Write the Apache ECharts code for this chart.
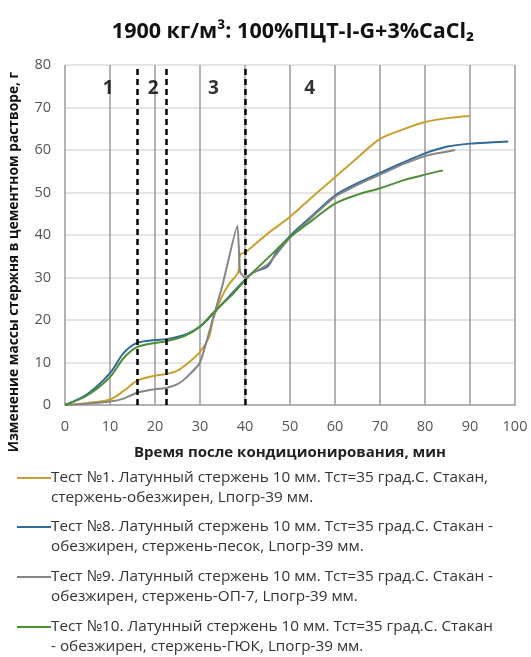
<!DOCTYPE html>
<html>
<head>
<meta charset="utf-8">
<script src="https://cdn.jsdelivr.net/npm/echarts@6/dist/echarts.min.js"></script>
<style>html,body{margin:0;padding:0;background:#fff}#c{width:531px;height:657px}</style>
</head>
<body>
<div id="c"></div>
<script>
// ---- data ----
var titleText = '1900 кг/м³: 100%ПЦТ-I-G+3%CaCl₂';
var xAxisName = 'Время после кондиционирования, мин';
var yAxisName = 'Изменение массы стержня в цементном растворе, г';
var xTicks = [0, 10, 20, 30, 40, 50, 60, 70, 80, 90, 100];
var yTicks = [0, 10, 20, 30, 40, 50, 60, 70, 80];

var names = [
  'Тест №1. Латунный стержень 10 мм. Тст=35 град.С. Стакан,\nстержень-обезжирен, Lпогр-39 мм.',
  'Тест №8. Латунный стержень 10 мм. Тст=35 град.С. Стакан -\nобезжирен, стержень-песок, Lпогр-39 мм.',
  'Тест №9. Латунный стержень 10 мм. Тст=35 град.С. Стакан -\nобезжирен, стержень-ОП-7, Lпогр-39 мм.',
  'Тест №10. Латунный стержень 10 мм. Тст=35 град.С. Стакан\n- обезжирен, стержень-ГЮК, Lпогр-39 мм.'
];

var test1 = [[0,0],[5,0.5],[10,1.3],[13,3.3],[16,5.7],[20,6.9],[22.5,7.3],[25,8.1],[27.5,10],[30,12.5],[32,16],[33,20.5],[35,25.8],[36.5,28.5],[38.5,31.3],[38.9,35.4],[40.2,36],[45,40.3],[50,44.3],[55,49],[60,53.6],[65,58.2],[70,62.6],[75,64.8],[80,66.6],[85,67.5],[90,68]];
var test8 = [[0,0],[5,2.6],[10,7.5],[13,12.2],[16,14.6],[20,15.3],[22.5,15.5],[26.5,16.5],[30,18.4],[33,21.6],[36.7,25.8],[40,29.5],[42,31.3],[45,32.6],[47,36],[50,39.8],[55,44.6],[60,49.3],[65,52.2],[70,54.6],[75,57],[80,59.2],[85,60.8],[90,61.5],[95,61.8],[98.5,62]];
var test9 = [[0,0],[5,0.3],[10,0.8],[13,1.5],[16,2.9],[20,3.7],[22.5,4],[25,4.9],[27,6.5],[30,10],[33,20.8],[35,28.2],[38.3,42.2],[38.9,31.3],[40,30],[42,31.2],[45,33],[50,39.4],[55,44.3],[60,49],[65,51.8],[70,54.2],[75,56.6],[80,58.6],[86.7,60]];
var test10 = [[0,0],[5,2.3],[10,6.6],[13,11],[16,13.6],[20,14.6],[22.5,15],[26.5,16.2],[30,18.5],[33,21.8],[36.7,25.5],[40,29.3],[42,31.5],[45,34.5],[50,39.5],[55,43.5],[60,47.4],[65,49.5],[70,51],[75,52.8],[80,54.2],[84,55.2]];

var stageBounds = [16, 22.5, 40];
var stageLabels = [['1', 9.6, 74.5], ['2', 19.6, 74.5], ['3', 33, 74.5], ['4', 54.4, 74.5]];

var colors = ['#C9A030', '#2F6A99', '#858585', '#4E8E35'];
var smoothness = [0.3, 0.3, 0.15, 0.3];
var seriesData = [test1, test8, test9, test10];

var FONT = 'Open Sans';

var chart = echarts.init(document.getElementById('c'), null, {renderer: 'canvas'});

var series = seriesData.map(function (d, i) {
  return {
    name: names[i],
    type: 'line',
    data: d,
    smooth: smoothness[i],
    symbol: 'none',
    lineStyle: {color: colors[i], width: 2},
    itemStyle: {color: colors[i]},
    z: 3
  };
});
series[0].markLine = {
  silent: true,
  symbol: 'none',
  label: {show: false},
  lineStyle: {color: '#000', type: [6, 4], width: 2.5},
  data: stageBounds.map(function (v) { return {xAxis: v}; })
};
series.push({
  type: 'scatter',
  data: stageLabels.map(function (s) { return [s[1], s[2], s[0]]; }),
  symbolSize: 0,
  silent: true,
  label: {
    show: true, position: 'inside',
    formatter: function (p) { return p.data[2]; },
    color: '#000', fontFamily: FONT, fontWeight: 'bold', fontSize: 19
  },
  z: 5
});

var legendTops = [443, 492, 542, 592];
var legends = names.map(function (n, i) {
  return {
    data: [n],
    left: 12,
    top: legendTops[i],
    orient: 'vertical',
    itemWidth: 34,
    itemHeight: 18,
    itemGap: 0,
    icon: 'path://M0,8 L34,8 L34,10 L0,10 Z',
    selectedMode: false,
    formatter: function (name) { return '\n' + name; },
    textStyle: {fontFamily: FONT, fontSize: 15.3, color: '#333', lineHeight: 20, padding: [0, 0, 0, -5]}
  };
});

chart.setOption({
  animation: false,
  backgroundColor: '#fff',
  title: {
    text: titleText,
    left: 288, top: 16, textAlign: 'center',
    textStyle: {fontFamily: FONT, fontWeight: 'bold', fontSize: 21.5, color: '#111'}
  },
  legend: legends,
  grid: {left: 65, right: 16, top: 65, bottom: 252},
  xAxis: {
    type: 'value', min: 0, max: 100, interval: 10,
    name: xAxisName, nameLocation: 'middle', nameGap: 40,
    nameTextStyle: {fontFamily: FONT, fontWeight: 'bold', fontSize: 15, color: '#222'},
    axisLine: {show: true, lineStyle: {color: '#a0a0a0', width: 1.5}},
    axisTick: {show: false},
    axisLabel: {fontFamily: FONT, fontSize: 14.5, color: '#555', margin: 14,
      formatter: function (v) { return xTicks.indexOf(v) >= 0 ? String(v) : ''; }},
    splitLine: {show: true, lineStyle: {color: '#9a9a9a', width: 1.5}}
  },
  yAxis: {
    type: 'value', min: 0, max: 80, interval: 10,
    axisLine: {show: false},
    axisTick: {show: false},
    axisLabel: {fontFamily: FONT, fontSize: 14.5, color: '#555', margin: 14,
      formatter: function (v) { return yTicks.indexOf(v) >= 0 ? String(v) : ''; }},
    splitLine: {show: true, lineStyle: {color: '#dcdcdc', width: 1.5}}
  },
  graphic: [{
    type: 'text', x: 14, y: 262, rotation: Math.PI / 2,
    style: {text: yAxisName, fontFamily: FONT, fontWeight: 'bold', fontSize: 13.8, fill: '#111',
      align: 'center', verticalAlign: 'middle'}
  }],
  series: series
});
</script>
</body>
</html>
